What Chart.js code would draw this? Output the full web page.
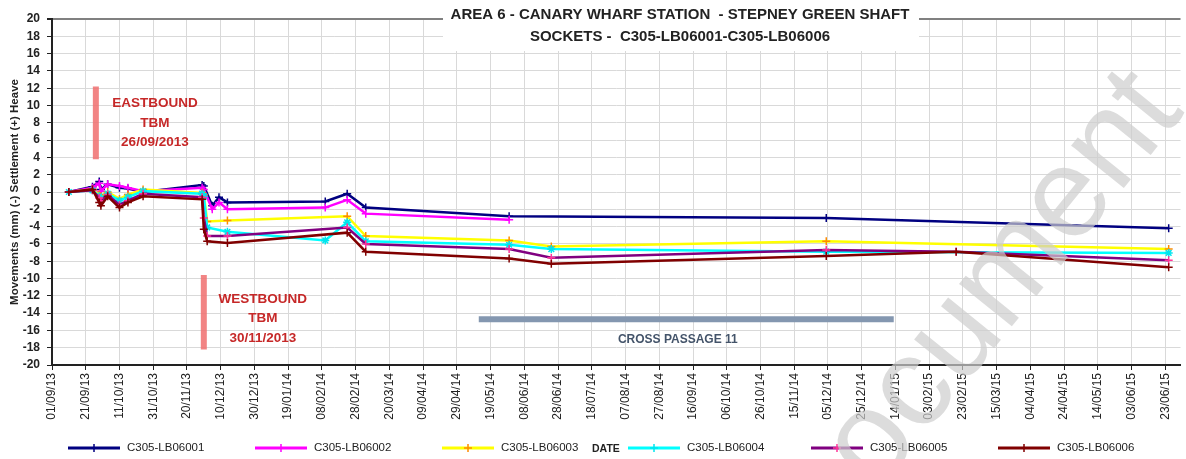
<!DOCTYPE html>
<html>
<head>
<meta charset="utf-8">
<title>Area 6 - Canary Wharf Station - Stepney Green Shaft</title>
<script src="https://cdn.jsdelivr.net/npm/chart.js@4.4.0/dist/chart.umd.min.js"></script>
<style>
  html, body { margin: 0; padding: 0; background: #fff; }
  #chart { display: block; }
</style>
</head>
<body>
<canvas id="chart" width="1186" height="459"></canvas>
<script>
/* ---------- data ---------- */

var FONT = '"Liberation Sans", Arial, sans-serif';

var titleLines = ['AREA 6 - CANARY WHARF STATION  - STEPNEY GREEN SHAFT',
                  'SOCKETS -  C305-LB06001-C305-LB06006'];

var seriesNames = ['C305-LB06001', 'C305-LB06002', 'C305-LB06003',
                   'C305-LB06004', 'C305-LB06005', 'C305-LB06006'];

// reading dates (dd/mm/yy)
var readDates = ['11/09/13', '25/09/13', '29/09/13', '30/09/13', '04/10/13', '11/10/13',
                 '16/10/13', '25/10/13', '29/11/13', '30/11/13', '02/12/13', '05/12/13',
                 '09/12/13', '14/12/13', '10/02/14', '23/02/14', '06/03/14', '30/05/14',
                 '24/06/14', '04/12/14', '19/02/15', '25/06/15'];

// movements in mm, null = no reading
var lb01 = [0, 0.6, 1.2, 0.3, 0.9, 0.5, 0.4, 0.0, 0.8, 0.7, null, -1.6,
            -0.6, -1.2, -1.1, -0.2, -1.8, -2.8, null, -3.0, null, -4.2];
var lb02 = [0, 0.5, 1.0, 0.1, 0.9, 0.7, 0.5, 0.1, 0.5, 0.3, null, -2.0,
            -1.2, -2.0, -1.8, -0.9, -2.5, -3.2, null, null, null, null];
var lb03 = [0, 0.3, -0.3, -0.5, 0.0, -0.8, -0.3, 0.3, -0.1, -0.3, -3.4, null,
            null, -3.3, null, -2.8, -5.1, -5.6, -6.3, -5.7, null, -6.6];
var lb04 = [0, 0.2, -0.5, -0.8, -0.2, -1.0, -0.6, 0.1, -0.2, -0.5, -4.1, null,
            null, -4.6, -5.6, -3.5, -5.7, -6.1, -6.6, -6.9, null, -7.05];
var lb05 = [0, 0.2, -0.7, -1.0, -0.3, -1.5, -1.0, -0.2, -0.6, -3.0, -5.1, null,
            null, -5.1, null, -4.1, -6.0, -6.6, -7.6, -6.7, -6.9, -7.9];
var lb06 = [0, 0.3, -1.2, -1.6, -0.5, -1.8, -1.2, -0.5, -0.85, -4.3, -5.7, null,
            null, -5.9, null, -4.7, -6.9, -7.7, -8.3, -7.4, -6.9, -8.7];
var seriesValues = [lb01, lb02, lb03, lb04, lb05, lb06];

var lineColors = ['#000080', '#ff00ff', '#ffff00', '#00ffff', '#800080', '#800000'];
var markColors = ['#000080', '#ff00ff', '#ff8c00', '#00e5ee', '#ff3399', '#800000'];
var markStyles = ['cross', 'cross', 'cross', 'star', 'cross', 'cross'];

// x axis tick labels, every 20 days
var xTickDates = ['01/09/13', '21/09/13', '11/10/13', '31/10/13', '20/11/13', '10/12/13',
                  '30/12/13', '19/01/14', '08/02/14', '28/02/14', '20/03/14', '09/04/14',
                  '29/04/14', '19/05/14', '08/06/14', '28/06/14', '18/07/14', '07/08/14',
                  '27/08/14', '16/09/14', '06/10/14', '26/10/14', '15/11/14', '05/12/14',
                  '25/12/14', '14/01/15', '03/02/15', '23/02/15', '15/03/15', '04/04/15',
                  '24/04/15', '14/05/15', '03/06/15', '23/06/15'];
var xEndDate = '02/07/15';

// marker bars: [from date, to date, from level, to level]
var eastboundBar = ['27/09/13', '27/09/13', 3.8, 12.2];
var westboundBar = ['30/11/13', '30/11/13', -18.2, -9.6];
var crossPassageBar = ['12/05/14', '13/01/15', -14.7, -14.7];

/* ---------- helpers ---------- */

var ORIGIN = Date.UTC(2013, 8, 1);
function dayNo(s) {
  var p = s.split('/');
  var y = +p[2]; if (y < 100) y += 2000;
  return Math.round((Date.UTC(y, +p[1] - 1, +p[0]) - ORIGIN) / 864e5);
}

function points(vals) {
  var out = [];
  vals.forEach(function(v, i) {
    if (v !== null) out.push({ x: dayNo(readDates[i]), y: v });
  });
  return out;
}

function barData(b) {
  return [{ x: dayNo(b[0]), y: b[2] }, { x: dayNo(b[1]), y: b[3] }];
}

var datasets = seriesNames.map(function(name, i) {
  return {
    label: name,
    data: points(seriesValues[i]),
    borderColor: lineColors[i],
    backgroundColor: lineColors[i],
    borderWidth: 2.5,
    pointStyle: markStyles[i],
    pointRadius: 4,
    pointBorderWidth: 1.5,
    pointBorderColor: markColors[i],
    pointBackgroundColor: markColors[i],
    tension: 0,
    order: 6 - i
  };
});

function bar(b, color) {
  return { label: '', data: barData(b), borderColor: color, borderWidth: 6,
           pointRadius: 0, borderCapStyle: 'butt', order: 10 };
}
datasets.push(bar(eastboundBar, 'rgba(240,110,110,0.85)'));
datasets.push(bar(westboundBar, 'rgba(240,110,110,0.85)'));
datasets.push(bar(crossPassageBar, '#8497b0'));

/* ---------- text notes, title, legend, watermark ---------- */

var notes = [
  { lines: ['EASTBOUND', 'TBM', '26/09/2013'], at: ['01/11/13', 10.2], color: '#c62828', font: 'bold 13.5px ' + FONT, step: 19.5 },
  { lines: ['WESTBOUND', 'TBM', '30/11/2013'], at: ['04/01/14', -12.4], color: '#c62828', font: 'bold 13.5px ' + FONT, step: 19.5 },
  { lines: ['CROSS PASSAGE 11'], at: ['07/09/14', -17.1], color: '#44546a', font: 'bold 12px ' + FONT, step: 0 }
];

var decor = {
  id: 'decor',
  afterDatasetsDraw: function(chart) {
    var ctx = chart.ctx, xs = chart.scales.x, ys = chart.scales.y;
    ctx.save();
    ctx.textAlign = 'center';
    ctx.textBaseline = 'middle';
    notes.forEach(function(n) {
      var x = xs.getPixelForValue(dayNo(n.at[0]));
      var y = ys.getPixelForValue(n.at[1]);
      ctx.font = n.font;
      ctx.fillStyle = n.color;
      n.lines.forEach(function(t, k) { ctx.fillText(t, x, y + k * n.step); });
    });
    ctx.restore();
  },
  afterDraw: function(chart) {
    var ctx = chart.ctx;
    ctx.save();

    // title box over the plot
    ctx.fillStyle = '#fff';
    ctx.fillRect(443, 0, 476, 51);
    ctx.fillStyle = '#222';
    ctx.font = 'bold 15px ' + FONT;
    ctx.textAlign = 'center';
    ctx.textBaseline = 'middle';
    ctx.fillText(titleLines[0], 680, 15);
    ctx.fillText(titleLines[1], 680, 37);

    // legend
    var lx = [68, 255, 442, 628, 811, 998], ly = 448;
    seriesNames.forEach(function(name, i) {
      ctx.strokeStyle = lineColors[i];
      ctx.lineWidth = 3;
      ctx.beginPath(); ctx.moveTo(lx[i], ly); ctx.lineTo(lx[i] + 52, ly); ctx.stroke();
      ctx.strokeStyle = markColors[i];
      ctx.lineWidth = 1.5;
      ctx.beginPath();
      ctx.moveTo(lx[i] + 26, ly - 4); ctx.lineTo(lx[i] + 26, ly + 4);
      ctx.moveTo(lx[i] + 22, ly); ctx.lineTo(lx[i] + 30, ly);
      ctx.stroke();
      ctx.fillStyle = '#222';
      ctx.font = '11.5px ' + FONT;
      ctx.textAlign = 'left';
      ctx.fillText(name, lx[i] + 59, ly);
    });
    ctx.font = 'bold 10.5px ' + FONT;
    ctx.fillText('DATE', 592, ly + 1);

    // watermark
    ctx.font = '128px ' + FONT;
    var pre = ctx.measureText('Doc').width + ctx.measureText('u').width / 2;
    ctx.translate(958, 340);
    ctx.rotate(-51 * Math.PI / 180);
    ctx.fillStyle = 'rgba(205,205,205,0.7)';
    ctx.textAlign = 'left';
    ctx.textBaseline = 'alphabetic';
    ctx.fillText('Document', -pre, 128 * 0.26);

    ctx.restore();
  }
};

/* ---------- chart ---------- */

new Chart(document.getElementById('chart'), {
  type: 'line',
  data: { datasets: datasets },
  plugins: [decor],
  options: {
    responsive: false,
    animation: false,
    devicePixelRatio: 1,
    layout: { padding: { left: 0, right: 0, top: 19, bottom: 29 } },
    plugins: { legend: { display: false }, tooltip: { enabled: false } },
    scales: {
      x: {
        type: 'linear',
        min: 0,
        max: dayNo(xEndDate),
        afterBuildTicks: function(s) {
          s.ticks = xTickDates.map(function(d) { return { value: dayNo(d) }; });
        },
        afterFit: function(s) { s.height = 65; },
        ticks: {
          autoSkip: false,
          minRotation: 90,
          maxRotation: 90,
          padding: 3,
          color: '#222',
          font: { family: FONT, size: 12 },
          callback: function(v, i) { return xTickDates[i]; }
        },
        grid: { color: '#d9d9d9', tickColor: '#222', tickLength: 5 },
        border: { color: '#222', width: 2 }
      },
      y: {
        min: -20,
        max: 20,
        afterFit: function(s) { s.width = 52; },
        ticks: {
          stepSize: 2,
          autoSkip: false,
          padding: 7,
          color: '#222',
          font: { family: FONT, size: 12, weight: 'bold' }
        },
        title: {
          display: true,
          text: 'Movements (mm) (-) Settlement (+) Heave',
          color: '#222',
          padding: { top: 8, bottom: 0 },
          font: { family: FONT, size: 11.5, weight: 'bold' }
        },
        grid: {
          color: function(c) { return c.tick && c.tick.value === 20 ? '#808080' : '#d9d9d9'; },
          lineWidth: function(c) { return c.tick && c.tick.value === 20 ? 2 : 1; },
          tickColor: '#222',
          tickLength: 5
        },
        border: { color: '#222', width: 2 }
      }
    }
  }
});
</script>
</body>
</html>
